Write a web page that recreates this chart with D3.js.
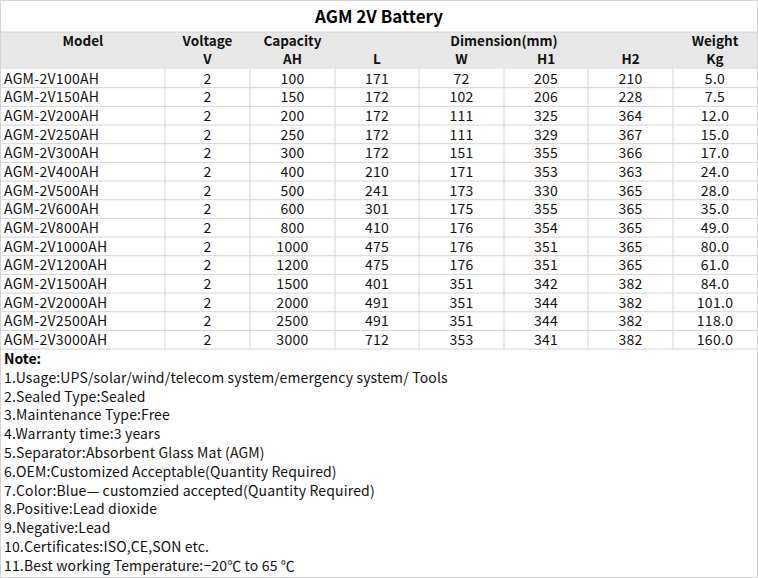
<!DOCTYPE html>
<html><head><meta charset="utf-8">
<script src="https://cdn.jsdelivr.net/npm/d3@7"></script>
<style>body{margin:0;background:#fff}text{font-family:"Noto Sans CJK SC","Noto Sans",sans-serif}</style>
</head><body><svg id="vis"></svg>
<script>
var models = ["AGM-2V100AH","AGM-2V150AH","AGM-2V200AH","AGM-2V250AH","AGM-2V300AH","AGM-2V400AH","AGM-2V500AH","AGM-2V600AH","AGM-2V800AH","AGM-2V1000AH","AGM-2V1200AH","AGM-2V1500AH","AGM-2V2000AH","AGM-2V2500AH","AGM-2V3000AH"];
var voltage = [2,2,2,2,2,2,2,2,2,2,2,2,2,2,2];
var capacity = [100,150,200,250,300,400,500,600,800,1000,1200,1500,2000,2500,3000];
var lenL = [171,172,172,172,172,210,241,301,410,475,475,401,491,491,712];
var widthW = [72,102,111,111,151,171,173,175,176,176,176,351,351,351,353];
var heightH1 = [205,206,325,329,355,353,330,355,354,351,351,342,344,344,341];
var heightH2 = [210,228,364,367,366,363,365,365,365,365,365,382,382,382,382];
var weight = ["5.0","7.5","12.0","15.0","17.0","24.0","28.0","35.0","49.0","80.0","61.0","84.0","101.0","118.0","160.0"];
var notes = ["1.Usage:UPS/solar/wind/telecom system/emergency system/ Tools","2.Sealed Type:Sealed","3.Maintenance Type:Free","4.Warranty time:3 years","5.Separator:Absorbent Glass Mat (AGM)","6.OEM:Customized Acceptable(Quantity Required)","7.Color:Blue\u2014 customzied accepted(Quantity Required)","8.Positive:Lead dioxide","9.Negative:Lead","10.Certificates:ISO,CE,SON etc.","11.Best working Temperature:\u221220\u2103 to 65 \u2103"];

var W = 758, H = 578;
var svg = d3.select("#vis").attr("width", W).attr("height", H);
var cols = [1,165,250,335,419,504,588,673,757];
var rowTop = 69, rowH = 18.67;
var line = "#d4d4d4";

// title
svg.append("text").attr("x", 379).attr("y", 23).attr("text-anchor","middle")
  .attr("font-size", 17).attr("font-weight","bold").text("AGM 2V Battery");

// header band
svg.append("rect").attr("x",1).attr("y",32).attr("width",756).attr("height",rowTop-32).attr("fill","#e7e7e7");
function mid(i){ return (cols[i]+cols[i+1])/2; }
var hdr = [
  ["Model", mid(0), 46], ["Voltage", mid(1), 46], ["V", mid(1), 64],
  ["Capacity", mid(2), 46], ["AH", mid(2), 64], ["L", mid(3), 64],
  ["Dimension(mm)", (cols[3]+cols[7])/2, 46], ["W", mid(4), 64], ["H1", mid(5), 64],
  ["H2", mid(6), 64], ["Weight", mid(7), 46], ["Kg", mid(7), 64]
];
svg.selectAll("text.hdr").data(hdr).join("text").attr("class","hdr")
  .attr("x", d => d[1]).attr("y", d => d[2]).attr("text-anchor","middle")
  .attr("font-size", 13.5).attr("font-weight","bold").attr("fill","#111").text(d => d[0]);

// rows
var y = d3.scaleLinear().domain([0, models.length]).range([rowTop, rowTop + rowH*models.length]);
var rows = models.map((m,i) => [m, voltage[i], capacity[i], lenL[i], widthW[i], heightH1[i], heightH2[i], weight[i]]);
var g = svg.selectAll("g.row").data(rows).join("g").attr("class","row")
  .attr("transform", (d,i) => "translate(0," + y(i) + ")");
g.append("line").attr("x1",1).attr("x2",757).attr("y1",rowH).attr("y2",rowH).attr("stroke",line);
g.selectAll("text").data(d => d).join("text")
  .attr("x", (d,j) => j === 0 ? 4 : mid(j)).attr("y", 14.5)
  .attr("text-anchor", (d,j) => j === 0 ? "start" : "middle")
  .attr("font-size", 14).attr("letter-spacing", 0.3).attr("fill","#111").text(d => d);
svg.selectAll("line.v").data(cols.slice(1,8)).join("line").attr("class","v")
  .attr("x1", d => d).attr("x2", d => d).attr("y1", rowTop).attr("y2", y(models.length)).attr("stroke", line);

// notes
var ny = y(models.length);
svg.append("text").attr("x",4).attr("y", ny+15).attr("font-size",14).attr("font-weight","bold").text("Note:");
svg.selectAll("text.note").data(notes).join("text").attr("class","note")
  .attr("x",4).attr("y",(d,i) => ny + 15 + 18.8*(i+1)).attr("font-size",14).attr("letter-spacing",0.15)
  .attr("fill","#111").text(d => d);

// border
svg.append("rect").attr("x",0.5).attr("y",0.5).attr("width",W-1).attr("height",H-1).attr("fill","none").attr("stroke",line);
svg.append("line").attr("x1",0).attr("x2",W).attr("y1",32).attr("y2",32).attr("stroke",line);
</script></body></html>
